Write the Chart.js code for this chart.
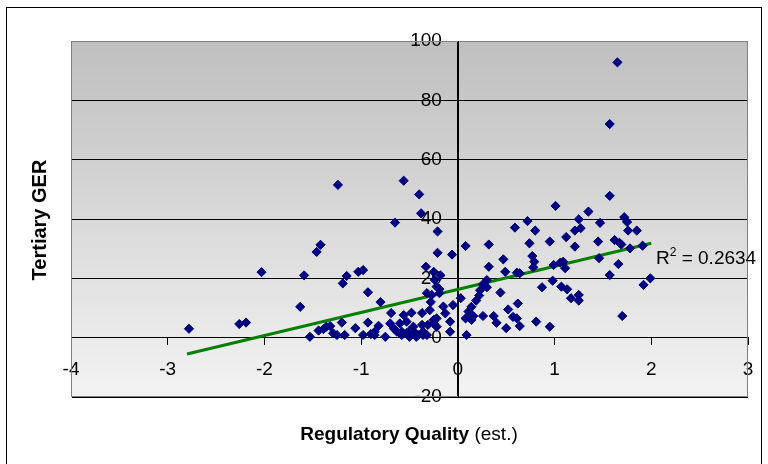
<!DOCTYPE html>
<html><head><meta charset="utf-8">
<script src="https://cdn.jsdelivr.net/npm/chart.js@4.4.0/dist/chart.umd.min.js"></script>
<style>html,body{margin:0;padding:0;background:#fff;}#wrap{width:768px;height:464px;position:relative;}</style>
</head><body><div id="wrap"><canvas id="c" width="768" height="464"></canvas></div>
<script>
// Regulatory Quality (est.) values
const xValues = [
 -2.78,-2.26,-2.19,-2.03,-1.63,-1.59,-1.53,-1.46,-1.42,-1.44,-1.39,-1.36,-1.32,-1.29,-1.25,-1.24,-1.20,-1.19,-1.15,-1.17,
 -1.06,-1.03,-0.98,-0.98,-0.93,-0.93,-0.90,-0.86,-0.86,-0.82,-0.80,-0.75,-0.69,-0.70,-0.66,-0.65,-0.63,-0.58,-0.60,-0.58,
 -0.56,-0.56,-0.53,-0.53,-0.51,-0.50,-0.48,-0.46,-0.44,-0.43,-0.41,-0.40,-0.38,-0.37,-0.37,-0.36,-0.36,-0.33,-0.32,-0.32,
 -0.31,-0.29,-0.27,-0.25,-0.25,-0.25,-0.22,-0.22,-0.22,-0.21,-0.21,-0.19,-0.19,-0.13,-0.08,-0.08,-0.06,-0.05,0.03,0.08,
 0.08,0.09,0.11,0.14,0.14,0.16,0.19,0.22,0.23,0.26,0.26,0.30,0.30,0.32,0.32,0.37,0.40,0.44,0.47,0.49,
 0.50,0.52,0.57,0.59,0.61,0.62,0.61,0.64,0.64,0.72,0.74,0.77,0.79,0.78,0.80,0.81,0.87,0.95,0.95,0.98,
 0.99,1.01,1.06,1.09,1.07,1.11,1.12,1.13,1.17,1.21,1.21,1.25,1.25,1.25,1.27,1.35,1.45,1.46,1.47,1.57,
 1.57,1.57,1.62,1.65,1.66,1.67,1.69,1.70,1.72,1.75,1.76,1.78,1.85,1.91,1.92,1.99,
 -0.24,-0.18,-0.28,-0.15
];
// Tertiary GER values
const yValues = [
 3.0,4.6,5.1,22.1,10.4,21.0,0.3,28.9,31.3,2.4,2.9,3.7,3.9,1.5,0.9,51.5,5.1,18.3,20.8,0.9,
 3.2,22.2,22.8,0.9,15.3,5.1,1.2,0.9,2.0,4.0,12.0,0.3,8.3,4.8,3.0,38.8,2.0,0.9,4.8,2.0,
 7.6,52.9,5.4,1.5,2.0,0.3,8.4,3.7,1.5,0.3,0.9,48.3,41.9,8.3,4.3,2.0,0.9,23.9,15.0,0.9,
 4.3,9.3,14.4,22.2,6.0,4.8,17.2,3.7,6.5,35.8,28.6,16.4,15.0,8.2,5.4,2.0,28.0,11.0,13.3,30.9,
 6.5,0.9,8.8,10.4,6.0,7.3,12.5,14.2,16.0,18.0,7.3,19.4,17.0,31.4,23.9,7.3,5.0,15.2,26.4,22.2,
 3.2,9.5,7.0,37.1,21.9,11.5,6.5,21.7,3.9,39.3,31.8,27.5,25.6,23.7,36.1,5.4,17.0,32.4,3.7,19.2,
 24.5,44.4,25.3,25.6,17.2,23.4,33.9,16.3,13.3,36.1,30.7,39.9,14.4,12.5,36.9,42.5,32.4,26.8,38.7,47.8,
 72.0,21.1,32.9,92.8,24.8,32.0,31.4,7.3,40.6,39.0,36.1,30.1,36.1,31.0,17.8,20.0,
 19.5,21.0,12.0,10.5
];
// Linear trendline end points
const trendX = [-2.8, 2.0];
const trendY = [-5.5, 31.8];
const xTicks = [-4, -3, -2, -1, 0, 1, 2, 3];
const yTicks = [-20, 0, 20, 40, 60, 80, 100];
const xTitleBold = 'Regulatory Quality';
const xTitleNormal = ' (est.)';
const yTitle = 'Tertiary GER';
const r2Value = '0.2634';

const FONT = "'Liberation Sans', Arial, sans-serif";

const scatterData = xValues.map((x, i) => ({x: x, y: yValues[i]}));
const trendData = trendX.map((x, i) => ({x: x, y: trendY[i]}));

const decor = {
  id: 'decor',
  afterLayout(chart) {
    // place the value axis where x = 0 (axes cross at zero, as in Excel)
    const ys = chart.scales.y;
    const x0 = chart.scales.x.getPixelForValue(0);
    ys.right = x0;
    ys.left = x0 - 60;
    ys.width = 60;
    ys._labelItems = null;
    ys._gridLineItems = null;
  },
  beforeDraw(chart) {
    const {ctx, chartArea: a} = chart;
    ctx.save();
    ctx.fillStyle = '#fff';
    ctx.fillRect(0, 0, chart.width, chart.height);
    const g = ctx.createLinearGradient(0, a.top, 0, a.bottom);
    g.addColorStop(0, '#BFBFBF');
    g.addColorStop(1, '#F3F3F3');
    ctx.fillStyle = g;
    ctx.fillRect(a.left, a.top, a.right - a.left, a.bottom - a.top);
    ctx.restore();
  },
  beforeDatasetsDraw(chart) {
    const {ctx, chartArea: a} = chart;
    ctx.save();
    ctx.strokeStyle = '#808080';
    ctx.lineWidth = 1;
    ctx.strokeRect(Math.round(a.left) + 0.5, Math.round(a.top) + 0.5,
      Math.round(a.right - a.left) - 1, Math.round(a.bottom - a.top) - 1);
    // redraw value axis line over the border
    const x0 = Math.round(chart.scales.x.getPixelForValue(0)) + 0.5;
    ctx.strokeStyle = '#000';
    ctx.beginPath();
    ctx.moveTo(x0, a.top);
    ctx.lineTo(x0, a.bottom);
    ctx.stroke();
    ctx.restore();
  },
  afterDraw(chart) {
    const {ctx} = chart;
    ctx.save();
    // outer frame
    ctx.strokeStyle = '#000';
    ctx.lineWidth = 1;
    ctx.strokeRect(6.5, 7.5, 755, 480);
    // y title
    ctx.fillStyle = '#000';
    ctx.font = 'bold 20px ' + FONT;
    ctx.textAlign = 'center';
    ctx.textBaseline = 'middle';
    ctx.translate(40, 220);
    ctx.rotate(-Math.PI / 2);
    ctx.fillText(yTitle, 0, 0);
    ctx.setTransform(1, 0, 0, 1, 0, 0);
    // x title
    ctx.textBaseline = 'alphabetic';
    ctx.textAlign = 'left';
    ctx.font = 'bold 19px ' + FONT;
    const wb = ctx.measureText(xTitleBold).width;
    ctx.font = '19px ' + FONT;
    const wn = ctx.measureText(xTitleNormal).width;
    const sx = 409 - (wb + wn) / 2;
    ctx.font = 'bold 19px ' + FONT;
    ctx.fillText(xTitleBold, sx, 440);
    ctx.font = '19px ' + FONT;
    ctx.fillText(xTitleNormal, sx + wb, 440);
    // R squared label
    ctx.font = '19px ' + FONT;
    ctx.fillText('R', 656, 264);
    const wr = ctx.measureText('R').width;
    ctx.font = '12px ' + FONT;
    ctx.fillText('2', 656 + wr, 256);
    const w2 = ctx.measureText('2').width;
    ctx.font = '19px ' + FONT;
    ctx.fillText(' = ' + r2Value, 656 + wr + w2, 264);
    ctx.restore();
  }
};

new Chart(document.getElementById('c'), {
  type: 'scatter',
  data: {
    datasets: [
      {
        label: 'Tertiary GER',
        data: scatterData,
        pointStyle: 'rectRot',
        pointRadius: 4.6,
        pointBorderWidth: 1,
        backgroundColor: '#000080',
        borderColor: '#000080',
        order: 1
      },
      {
        type: 'line',
        label: 'Trend',
        data: trendData,
        showLine: true,
        borderColor: '#008000',
        borderWidth: 3,
        pointRadius: 0,
        fill: false,
        order: 2
      }
    ]
  },
  options: {
    responsive: false,
    animation: false,
    events: [],
    layout: {padding: {left: 71, right: 20, top: 41, bottom: 67}},
    plugins: {legend: {display: false}, tooltip: {enabled: false}},
    scales: {
      x: {
        type: 'linear',
        min: -4, max: 3,
        position: {y: 0},
        afterBuildTicks: s => { s.ticks = xTicks.map(v => ({value: v})); },
        ticks: {color: '#000', font: {family: FONT, size: 19}, padding: 14, maxRotation: 0, autoSkip: false},
        grid: {drawOnChartArea: false, drawTicks: true, tickLength: 7, color: '#000', lineWidth: 1},
        border: {display: true, color: '#000', width: 1}
      },
      y: {
        type: 'linear',
        min: -20, max: 100,
        position: 'left',
        afterFit: s => { s.width = 0; },
        afterBuildTicks: s => { s.ticks = yTicks.map(v => ({value: v})); },
        ticks: {color: '#000', font: {family: FONT, size: 19}, padding: 9, autoSkip: false},
        grid: {drawOnChartArea: true, drawTicks: true, tickLength: 7, color: '#000', lineWidth: 1},
        border: {display: true, color: '#000', width: 1}
      }
    }
  },
  plugins: [decor]
});
</script>
</body></html>
